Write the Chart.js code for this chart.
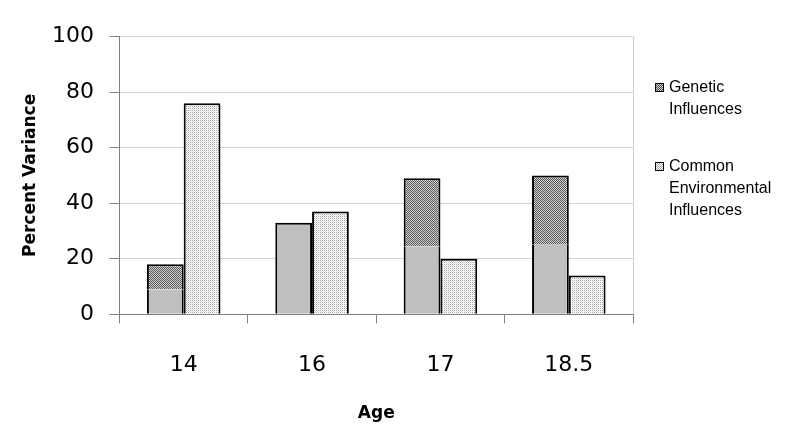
<!DOCTYPE html>
<html lang="en">
<head>
<meta charset="UTF-8">
<title>Percent Variance by Age</title>
<script src="https://cdn.jsdelivr.net/npm/chart.js"></script>
<style>
  body { margin: 0; background: #fff; }
  .wrap { position: relative; width: 792px; height: 442px; }
  .legend { position: absolute; left: 655px; font-family: "Liberation Sans", Arial, sans-serif; font-size: 16px; line-height: 22px; color: #000; }
  .legend .sw { position: absolute; left: 0; top: 7px; width: 7px; height: 7px; border: 1px solid #000; }
  .legend .txt { margin-left: 14px; }
  .sw.gen { background: repeating-conic-gradient(#4d4d4d 0 25%, #d0d0d0 0 50%) 0 0 / 2px 2px; }
  .sw.env { background: repeating-conic-gradient(#a8a8a8 0 25%, #fff 0 50%) 0 0 / 2px 2px; }
</style>
</head>
<body>
<div class="wrap">
  <canvas id="grafico" width="792" height="442"></canvas>
  <div class="legend" style="top:76px"><div class="sw gen"></div><div class="txt">Genetic<br>Influences</div></div>
  <div class="legend" style="top:155px"><div class="sw env"></div><div class="txt">Common<br>Environmental<br>Influences</div></div>
</div>
<script>
const ages = ["14", "16", "17", "18.5"];
const genetic = [18, 33, 49, 50];
// lower part of each genetic bar that is drawn as plain grey
const geneticGrey = [9, 33, 24.5, 25];
const common = [76, 37, 20, 14];
const yTicks = [0, 20, 40, 60, 80, 100];

const geneticHatch = genetic.map((v, i) => v - geneticGrey[i]);

function makePattern(c1, c2, c3, c4) {
  const c = document.createElement("canvas");
  c.width = 2; c.height = 2;
  const g = c.getContext("2d");
  g.fillStyle = c1; g.fillRect(0, 0, 1, 1);
  g.fillStyle = c2; g.fillRect(1, 0, 1, 1);
  g.fillStyle = c3; g.fillRect(0, 1, 1, 1);
  g.fillStyle = c4; g.fillRect(1, 1, 1, 1);
  return g.createPattern(c, "repeat");
}

const checker = makePattern("#555555", "#d4d4d4", "#d4d4d4", "#555555");
const dots = makePattern("#a8a8a8", "#ffffff", "#ffffff", "#e4e4e4");

const fontTick = { family: "'DejaVu Sans', sans-serif", size: 22 };
const fontTitle = { family: "'DejaVu Sans', sans-serif", size: 17, weight: "bold" };

new Chart(document.getElementById("grafico"), {
  type: "bar",
  data: {
    labels: ages,
    datasets: [
      {
        label: "Genetic base",
        data: geneticGrey,
        stack: "g",
        backgroundColor: "#bfbfbf",
        borderColor: "#000",
        borderSkipped: false,
        borderWidth: ctx => ({ top: geneticHatch[ctx.dataIndex] === 0 ? 2 : 0, left: 2, right: 2, bottom: 0 })
      },
      {
        label: "Genetic Influences",
        data: geneticHatch,
        stack: "g",
        backgroundColor: checker,
        borderColor: "#000",
        borderSkipped: false,
        borderWidth: { top: 2, left: 2, right: 2, bottom: 0 }
      },
      {
        label: "Common Environmental Influences",
        data: common,
        stack: "e",
        backgroundColor: dots,
        borderColor: "#000",
        borderWidth: 2
      }
    ]
  },
  options: {
    responsive: false,
    animation: false,
    categoryPercentage: 0.573,
    barPercentage: 1,
    layout: { padding: { left: 0, right: 159, top: 36.5, bottom: 0 } },
    plugins: { legend: { display: false }, tooltip: { enabled: false } },
    scales: {
      x: {
        stacked: true,
        border: { color: "#808080", width: 1 },
        grid: {
          offset: true,
          drawOnChartArea: true,
          color: ctx => ctx.type === "tick" ? "rgba(0,0,0,0)" : "#cfcfcf",
          tickColor: "#808080",
          tickLength: 9
        },
        ticks: { color: "#000", font: fontTick, padding: 29, maxRotation: 0 },
        title: { display: true, text: "Age", color: "#000", font: fontTitle, padding: { top: 0, bottom: 18 } },
        afterFit: s => { s.height = 127.7; }
      },
      y: {
        stacked: true,
        min: 0,
        max: 100,
        afterBuildTicks: s => { s.ticks = yTicks.map(v => ({ value: v })); },
        border: { color: "#808080", width: 1 },
        grid: { color: "#d4d4d4", tickColor: "#808080", tickLength: 10 },
        ticks: { color: "#000", font: fontTick, padding: 15.5 },
        title: { display: true, text: "Percent Variance", color: "#000", font: fontTitle, padding: { top: 20, bottom: 0 } },
        afterFit: s => { s.width = 119.5; }
      }
    }
  }
});
</script>
</body>
</html>
